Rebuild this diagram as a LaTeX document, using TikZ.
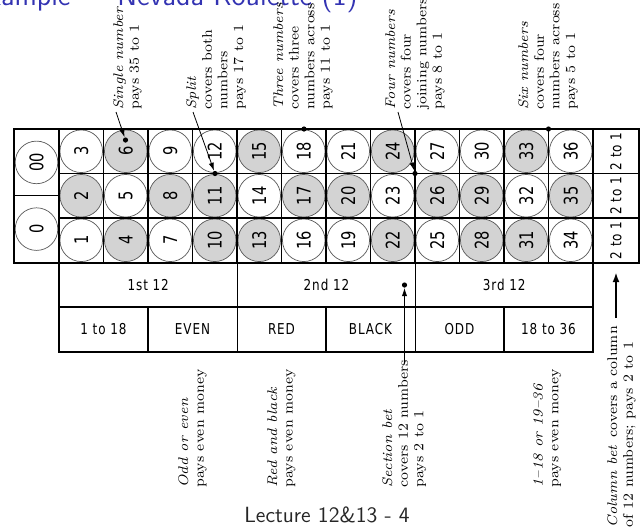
\documentclass[tikz,border=0pt]{standalone}
\usepackage{fontspec}
\newfontfamily\slotfont[FakeStretch=0.78]{DejaVu Sans}
\newfontfamily\cellfont[FakeStretch=0.8, LetterSpace=6]{DejaVu Sans}
\usetikzlibrary{arrows.meta, positioning}
\definecolor{beamerblue}{RGB}{51,51,178}
\definecolor{slotgrey}{HTML}{D3D3D3}
\tikzset{
	slot/.style={circle, draw=black!65, line width=0.35pt, minimum size=21.3pt, inner sep=0pt, rotate=90, font=\slotfont\fontsize{9.4}{10}\selectfont},
	blackslot/.style={slot, fill=slotgrey},
	redslot/.style={slot, fill=white},
	cell/.style={inner sep=0pt, font=\cellfont\fontsize{7.5}{9}\selectfont},
	note/.style={rotate=90, anchor=north west, align=left, inner sep=0pt, font=\fontsize{7}{7.8}\selectfont},
	betdot/.style={circle, fill=black, inner sep=0pt, minimum size=2.6pt},
	betarrow/.style={line width=0.4pt, -{Latex[length=4pt, width=2.6pt]}},
	colarrow/.style={line width=1pt, -{Latex[length=5pt, width=3.4pt]}},
	outer/.style={line width=1pt},
	inner/.style={line width=0.6pt}
}
\begin{document}
\begin{tikzpicture}[x=0.5pt, y=-0.5pt]
	\useasboundingbox (0,0) rectangle (644,527);
	\clip (0,0) rectangle (644,527);
	
	% Title and footer
	\node (title) [anchor=base west, inner sep=0pt, text=beamerblue, font=\sffamily\fontsize{14.4}{16}\selectfont] at (117,5) {\llap{Example --- }Nevada Roulette (1)};
	\node (footer) [anchor=base, inner sep=0pt, text=black!85, font=\sffamily\fontsize{11}{13}\selectfont] at (327,522) {Lecture 12\&13 - 4};
	
	% Number slots
	\foreach \num in {2,4,6,8,10,11,13,15,17,20,22,24,26,28,29,31,33,35} {
		\pgfmathsetmacro\cx{81.25+44.5*int((\num-1)/3)}
		\pgfmathsetmacro\cy{151.25+44.5*(2-mod(\num-1,3))}
		\node (n\num) [blackslot] at (\cx,\cy) {\num};
	}
	\foreach \num in {1,3,5,7,9,12,14,16,18,19,21,23,25,27,30,32,34,36} {
		\pgfmathsetmacro\cx{81.25+44.5*int((\num-1)/3)}
		\pgfmathsetmacro\cy{151.25+44.5*(2-mod(\num-1,3))}
		\node (n\num) [redslot] at (\cx,\cy) {\num};
	}
	\node (n00) [redslot] at (36.5,162.4) {00};
	\node (n0) [redslot] at (36.5,229.1) {0};
	
	% Table lines
	\foreach \k in {1,...,11}
		\draw [inner] ({59+44.5*\k},129) -- ({59+44.5*\k},262.5);
	\draw [inner] (59,173.5) -- (639,173.5);
	\draw [inner] (59,218) -- (639,218);
	\draw [inner] (14,195.75) -- (59,195.75);
	\draw [outer] (14,129) rectangle (639,262.5);
	\draw [outer] (59,129) -- (59,262.5);
	\draw [outer] (593,129) -- (593,262.5);
	\draw [outer] (59,262.5) rectangle (593,351.5);
	\draw [outer] (59,307) -- (593,307);
	\foreach \x in {237.5,415.5}
		\draw [inner] (\x,262.5) -- (\x,351.5);
	\foreach \x in {148,326,504}
		\draw [inner] (\x,307) -- (\x,351.5);
	
	% Column, dozen and even-money boxes
	\foreach \r/\y in {1/151.25,2/195.75,3/240.25}
		\node (col\r) [cell, rotate=90] at (616,\y) {2 to 1};
	\node (dozen1) [cell] at (148.25,284.75) {1st 12};
	\node (dozen2) [cell] at (326.5,284.75) {2nd 12};
	\node (dozen3) [cell] at (504.25,284.75) {3rd 12};
	\node (low) [cell] at (103.5,329.25) {1 to 18};
	\node (even) [cell] at (192.5,329.25) {EVEN};
	\node (red) [cell] at (281.5,329.25) {RED};
	\node (black) [cell] at (370.5,329.25) {BLACK};
	\node (odd) [cell] at (459.5,329.25) {ODD};
	\node (high) [cell] at (548.5,329.25) {18 to 36};
	
	% Chips
	\node (singledot) [betdot] at (125.5,140) {};
	\node (splitdot) [betdot] at (215,173.5) {};
	\node (streetdot) [betdot] at (304,129) {};
	\node (cornerdot) [betdot] at (415,173.5) {};
	\node (linedot) [betdot] at (548.5,129) {};
	\node (sectiondot) [betdot] at (404.5,285) {};
	
	% Notes above
	\node (singlenote) [note] at (113,110) {\textit{Single number}\\pays 35 to 1};
	\node (splitnote) [note] at (186,110) {\textit{Split}\\covers both\\numbers\\pays 17 to 1};
	\node (streetnote) [note] at (273,110) {\textit{Three numbers}\\covers three\\numbers across\\pays 11 to 1};
	\node (cornernote) [note] at (385,110) {\textit{Four numbers}\\covers four\\joining numbers\\pays 8 to 1};
	\node (linenote) [note] at (518,110) {\textit{Six numbers}\\covers four\\numbers across\\pays 5 to 1};
	
	% Notes below
	\node (evennote) [note] at (178,488) {\textit{Odd or even}\\pays even money};
	\node (rednote) [note] at (267,488) {\textit{Red and black}\\pays even money};
	\node (sectionnote) [note] at (382,488) {\textit{Section bet}\\covers 12 numbers\\pays 2 to 1};
	\node (highnote) [note] at (533,488) {\textit{1--18 or 19--36}\\pays even money};
	\node (columnnote) [note] at (607,528) {\textit{Column bet}\ \,covers a column\\of 12 numbers; pays 2 to 1};
	
	% Arrows
	\coordinate (singletail) at (116,112);
	\coordinate (splittail) at (193,112);
	\coordinate (cornertail) at (398,112);
	\coordinate (sectiontail) at (404.5,362);
	\coordinate (columntail) at (616,318);
	\coordinate (columnhead) at (616,272);
	\draw [betarrow] (singletail) -- (singledot);
	\draw [betarrow] (splittail) -- (splitdot);
	\draw [betarrow] (cornertail) -- (cornerdot);
	\draw [betarrow] (sectiontail) -- (sectiondot);
	\draw [colarrow] (columntail) -- (columnhead);
\end{tikzpicture}
\end{document}
